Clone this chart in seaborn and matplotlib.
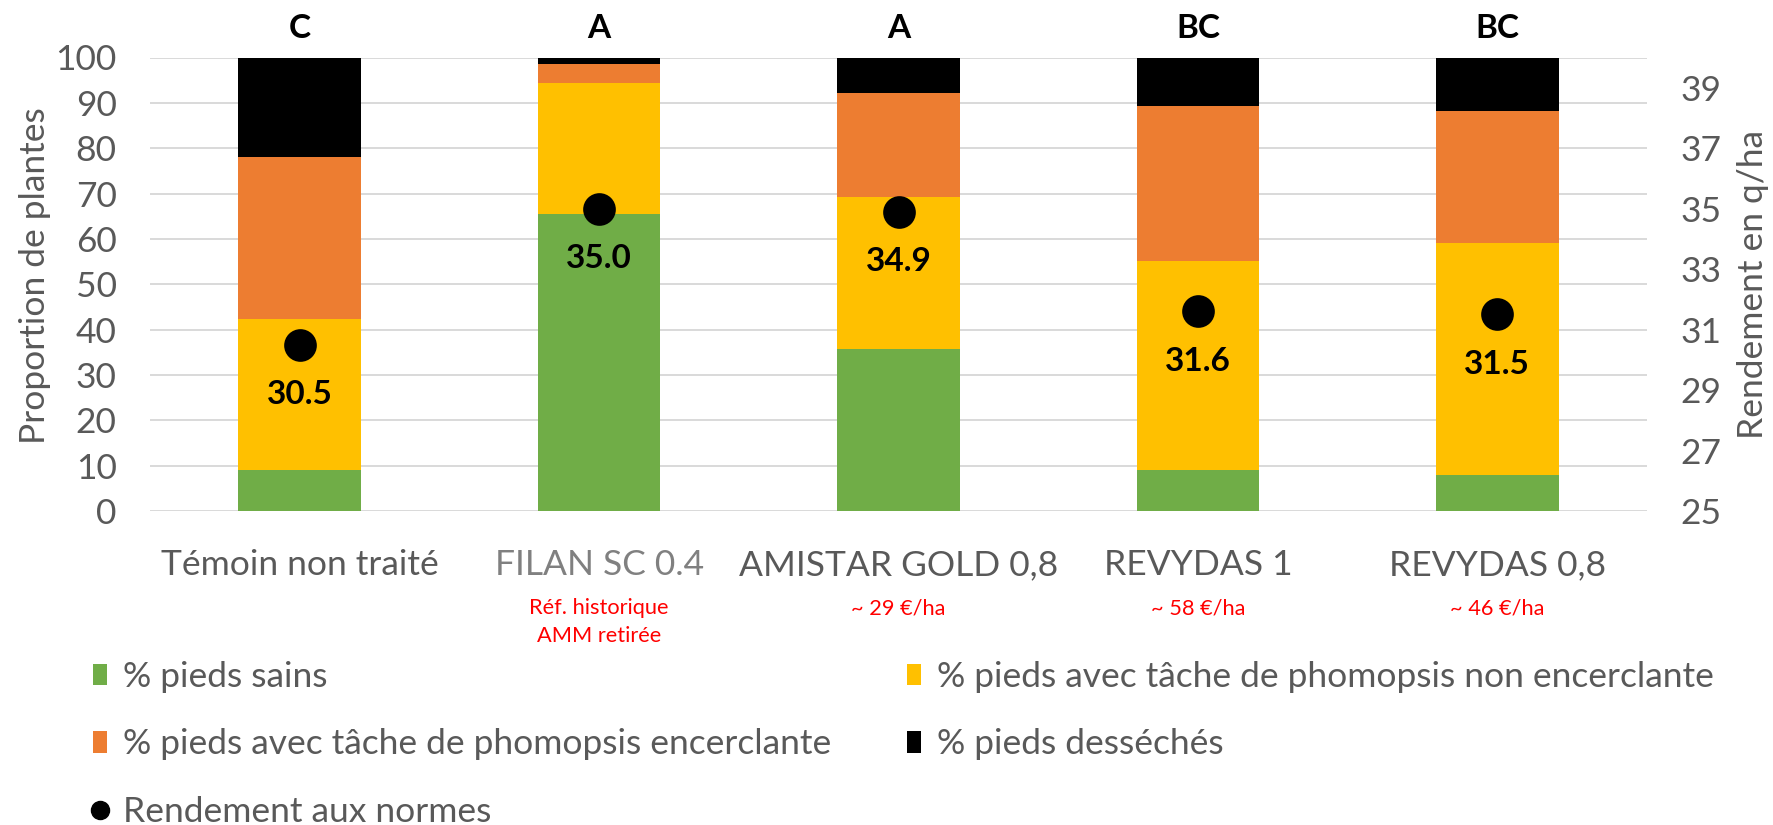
import numpy as np
import pandas as pd
import matplotlib
matplotlib.use("Agg")
import matplotlib.pyplot as plt
import seaborn as sns
from matplotlib.patches import Patch
from matplotlib.lines import Line2D

# ---------------- data ----------------
categories = ["Témoin non traité", "FILAN SC 0.4", "AMISTAR GOLD 0,8", "REVYDAS 1", "REVYDAS 0,8"]
sains = [9.0, 65.6, 35.8, 9.1, 8.0]
non_encerclante = [33.4, 28.8, 33.5, 46.0, 51.2]
encerclante = [35.6, 4.1, 22.9, 34.3, 29.1]
desseches = [22.0, 1.5, 7.8, 10.6, 11.7]
rendement = [30.5, 35.0, 34.9, 31.6, 31.5]
groupes = ["C", "A", "A", "BC", "BC"]
sous_titres = ["", "Réf. historique\nAMM retirée", "~ 29 €/ha", "~ 58 €/ha", "~ 46 €/ha"]
serie_labels = ["% pieds sains",
                "% pieds avec tâche de phomopsis non encerclante",
                "% pieds avec tâche de phomopsis encerclante",
                "% pieds desséchés"]
rendement_label = "Rendement aux normes"
left_ticks = list(range(0, 101, 10))
right_ticks = list(range(25, 40, 2))

# ---------------- style ----------------
colors = ["#70AD47", "#FFC000", "#ED7D31", "#000000"]
gray = "#595959"
grid_c = "#D9D9D9"
FS = 25.5

sns.set_theme(style="white")
plt.rcParams["font.family"] = ["Lato", "DejaVu Sans"]

W, H = 1773, 825
fig = plt.figure(figsize=(W / 100, H / 100), dpi=100)
x0, x1, ytop, ybot = 150, 1647, 57.5, 511
ax = fig.add_axes([x0 / W, 1 - ybot / H, (x1 - x0) / W, (ybot - ytop) / H])

df = pd.DataFrame({"cat": categories, "s": sains, "n": non_encerclante,
                   "e": encerclante, "d": desseches})
layers = [df["s"], df["n"], df["e"], df["d"]]
bottom = np.zeros(len(df))
for vals, c in zip(layers, colors):
    sns.barplot(x=df["cat"], y=vals.values, color=c, saturation=1, width=0.41,
                linewidth=0, bottom=bottom.copy(), ax=ax, zorder=2)
    bottom = bottom + vals.values

ax.set_ylim(0, 100)
ax.set_yticks(left_ticks)
ax.yaxis.grid(True, color=grid_c, lw=1.4, zorder=0)
ax.set_axisbelow(True)
for s in ax.spines.values():
    s.set_visible(False)

ax2 = ax.twinx()
sns.pointplot(x=df["cat"], y=rendement, ax=ax2, color="black", linestyle="none",
              markers="o", markersize=21.5, errorbar=None, zorder=5)
ax2.set_ylim(25, 40)
ax2.set_yticks(right_ticks)
for s in ax2.spines.values():
    s.set_visible(False)
ax2.grid(False)

for i, v in enumerate(rendement):
    ax2.annotate(f"{v:.1f}", xy=(i, v), xytext=(0, -36), textcoords="offset points",
                 ha="center", va="center", fontsize=24, fontweight="bold", color="black")

for i, g in enumerate(groupes):
    ax.annotate(g, xy=(i, 1), xycoords=("data", "axes fraction"), xytext=(0, 21),
                textcoords="offset points", ha="center", va="center",
                fontsize=24, fontweight="bold", color="black", annotation_clip=False)

for i, t in enumerate(sous_titres):
    if t:
        ax.annotate(t, xy=(i, 0), xycoords=("data", "axes fraction"), xytext=(0, -63),
                    textcoords="offset points", ha="center", va="top", fontsize=15.7,
                    color="#FF0000", linespacing=1.5, annotation_clip=False)

ax.set_xticks(range(len(categories)))
ax.set_xticklabels(categories)
for lab in ax.get_xticklabels():
    lab.set_color("#808080" if lab.get_text() == "FILAN SC 0.4" else gray)
ax.set_xlim(-0.5, len(categories) - 0.5)
ax.set_xlabel("")
ax.tick_params(axis="x", length=0, pad=27.5, labelsize=FS)
ax.tick_params(axis="y", length=0, pad=24, labelsize=FS, labelcolor=gray)
ax2.tick_params(axis="y", length=0, pad=24, labelsize=FS, labelcolor=gray)

ax.set_ylabel("Proportion de plantes", fontsize=FS, color=gray)
ax.yaxis.set_label_coords((51 - x0) / (x1 - x0), 0.52)
ax2.set_ylabel("Rendement en q/ha", fontsize=FS, color=gray, rotation=90)
ax2.yaxis.set_label_coords((1737 - x0) / (x1 - x0), 0.5)

# legends
h_a = [Patch(facecolor=colors[0], edgecolor="none"),
       Patch(facecolor=colors[2], edgecolor="none"),
       Line2D([], [], marker="o", color="black", linestyle="none", markersize=13)]
l_a = [serie_labels[0], serie_labels[2], rendement_label]
h_b = [Patch(facecolor=colors[1], edgecolor="none"),
       Patch(facecolor=colors[3], edgecolor="none")]
l_b = [serie_labels[1], serie_labels[3]]
common = dict(loc="upper left", frameon=False, borderpad=0, borderaxespad=0,
              handlelength=0.4, handleheight=0.55, handletextpad=0.45,
              labelspacing=1.0, prop={"size": FS}, labelcolor=gray)
leg_a = fig.legend(h_a, l_a, bbox_to_anchor=(93 / W, 1 - 661 / H), **common)
leg_b = fig.legend(h_b, l_b, bbox_to_anchor=(907 / W, 1 - 661 / H), **common)

fig.savefig("out.png", dpi=100)
